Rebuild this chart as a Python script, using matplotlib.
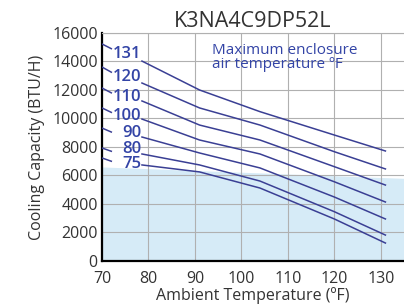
import numpy as np
import matplotlib
matplotlib.use("Agg")
import matplotlib.pyplot as plt

plt.rcParams['font.family'] = ['Open Sans', 'DejaVu Sans']

# ambient temperature sample points (°F); the 2nd point is where the line meets its label
ambient = [70, 72, 78.6, 91, 104, 120, 131]

# cooling capacity curves (BTU/H), one per max enclosure air temperature
cap_131 = [15230, 14900, 14030, 12000, 10480, 8840, 7720]
cap_120 = [13610, 13250, 12490, 10740, 9540, 7670, 6460]
cap_110 = [12140, 11800, 11230, 9540, 8490, 6620, 5330]
cap_100 = [10740, 10430, 9960, 8490, 7510, 5560, 4140]
cap_90 = [9330, 9050, 8700, 7580, 6530, 4490, 2950]
cap_80 = [7930, 7700, 7510, 6740, 5610, 3460, 1820]
cap_75 = [7230, 7000, 6740, 6250, 5120, 2950, 1260]

curves = [cap_131, cap_120, cap_110, cap_100, cap_90, cap_80, cap_75]
curve_labels = ["131", "120", "110", "100", "90", "80", "75"]
label_y = [14530, 12910, 11510, 10180, 8980, 7860, 6810]

# light blue band in the lower part of the chart
shade_x = [70, 135]
shade_top = [6600, 5800]

x_ticks = [70, 80, 90, 100, 110, 120, 130]
y_ticks = [0, 2000, 4000, 6000, 8000, 10000, 12000, 14000, 16000]

line_col = "#3a3f94"
text_col = "#3344a6"

fig = plt.figure(figsize=(4.04, 3.05), dpi=100)
ax = fig.add_axes([0.2525, 0.1443, 0.7475, 0.7475])

ax.fill_between(shade_x, 0, shade_top, color="#d6ebf7", lw=0, zorder=0)

for cap, lab, ly in zip(curves, curve_labels, label_y):
    ax.plot(ambient[:2], cap[:2], color=line_col, lw=1.1, zorder=3)
    ax.plot(ambient[2:], cap[2:], color=line_col, lw=1.1, zorder=3)
    ax.text(78.4, ly, lab, color=text_col, fontsize=12, ha="right", va="center",
            fontweight="semibold", zorder=4)

ax.text(0.365, 0.955, "Maximum enclosure\nair temperature ºF", transform=ax.transAxes,
        color=text_col, fontsize=11, ha="left", va="top", linespacing=0.9)

ax.set_xlim(70, 135)
ax.set_ylim(0, 16000)
ax.set_xticks(x_ticks)
ax.set_yticks(y_ticks)
ax.tick_params(length=0, labelsize=11.5, colors="#333333")
ax.tick_params(axis="x", pad=7)
ax.tick_params(axis="y", pad=3)
ax.grid(True, color="#b0b0b0", lw=0.8)
ax.set_axisbelow(True)

ax.spines["right"].set_visible(False)
ax.spines["top"].set_color("#b0b0b0")
ax.spines["top"].set_linewidth(0.8)
ax.spines["left"].set_linewidth(1.6)
ax.spines["bottom"].set_linewidth(1.6)

ax.set_xlabel("Ambient Temperature (ºF)", fontsize=11.5, color="#333333", labelpad=0)
ax.set_ylabel("Cooling Capacity (BTU/H)", fontsize=11.5, color="#333333", labelpad=5)
ax.set_title("K3NA4C9DP52L", fontsize=15.5, color="#333333", pad=4)

fig.savefig("out.png", dpi=100, facecolor="white")
